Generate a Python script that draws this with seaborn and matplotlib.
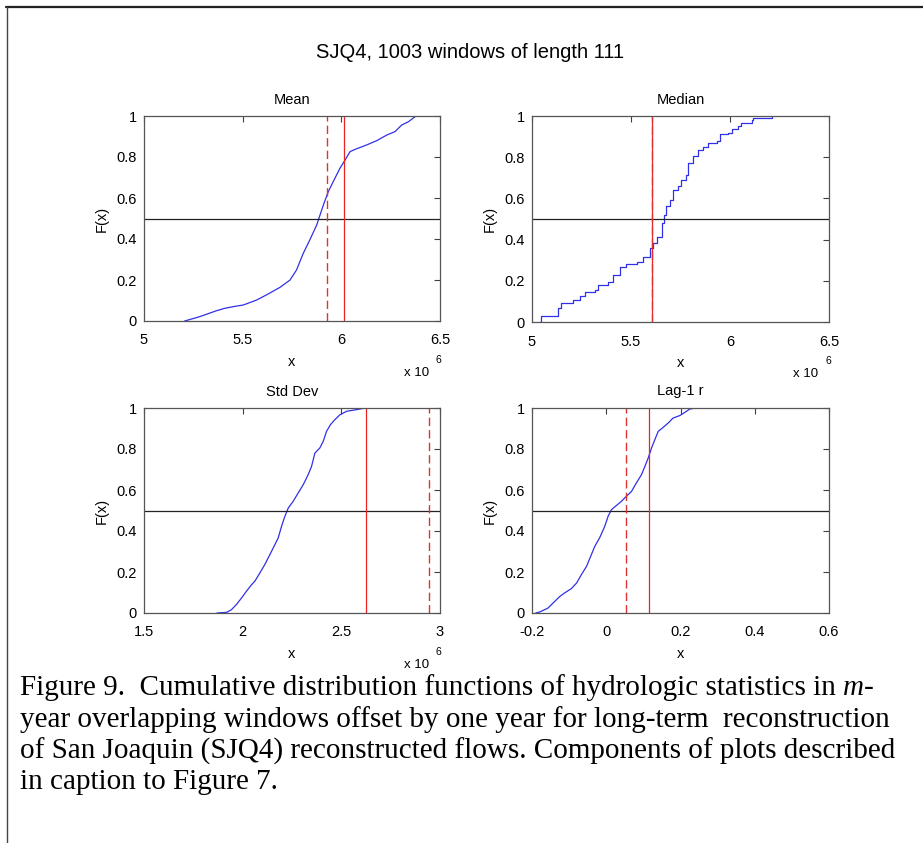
import matplotlib
matplotlib.use("Agg")
import matplotlib.pyplot as plt
import seaborn as sns
import pandas as pd
import numpy as np

# ---------------- data ----------------
suptitle = "SJQ4, 1003 windows of length 111"
panel_titles = ["Mean", "Median", "Std Dev", "Lag-1 r"]

# Mean (x in units of 1e6)
mean_x = [5.206, 5.282, 5.367, 5.41, 5.452, 5.503, 5.57, 5.62, 5.689, 5.74, 5.773,
          5.807, 5.84, 5.875, 5.892, 5.912, 5.934, 5.959, 5.993, 6.019, 6.044,
          6.069, 6.129, 6.18, 6.23, 6.272, 6.306, 6.34, 6.374, 6.382]
mean_F = [0.0, 0.021, 0.05, 0.062, 0.07, 0.078, 0.102, 0.127, 0.164, 0.2, 0.249,
          0.33, 0.395, 0.468, 0.517, 0.574, 0.631, 0.68, 0.745, 0.785, 0.826,
          0.837, 0.859, 0.88, 0.907, 0.924, 0.956, 0.972, 0.997, 1.0]
mean_lines = [5.925, 6.015]          # dashed, solid

# Median (step CDF, x in units of 1e6)
median_x = [5.035, 5.047, 5.131, 5.148, 5.207, 5.241, 5.266, 5.317, 5.334, 5.384,
            5.41, 5.443, 5.477, 5.528, 5.561, 5.595, 5.598, 5.612, 5.629, 5.645,
            5.659, 5.666, 5.679, 5.696, 5.713, 5.738, 5.755, 5.777, 5.789, 5.814,
            5.839, 5.865, 5.89, 5.932, 5.949, 5.991, 6.008, 6.042, 6.058, 6.109,
            6.117, 6.21]
median_F = [0.0, 0.028, 0.07, 0.093, 0.106, 0.125, 0.146, 0.154, 0.179, 0.195,
            0.228, 0.268, 0.281, 0.293, 0.317, 0.325, 0.358, 0.382, 0.415, 0.415,
            0.48, 0.52, 0.561, 0.593, 0.642, 0.662, 0.691, 0.715, 0.772, 0.805,
            0.837, 0.85, 0.87, 0.878, 0.911, 0.919, 0.938, 0.951, 0.967, 0.98,
            0.992, 1.0]
median_lines = [5.607, 5.605]        # dashed, solid

# Std Dev (x in units of 1e6)
std_x = [1.870, 1.918, 1.943, 1.968, 1.994, 2.019, 2.045, 2.061, 2.087, 2.112, 2.138,
         2.163, 2.18, 2.197, 2.214, 2.231, 2.256, 2.281, 2.307, 2.332, 2.349, 2.366,
         2.391, 2.408, 2.425, 2.445, 2.467, 2.493, 2.527, 2.577, 2.62]
std_F = [0.0, 0.003, 0.016, 0.041, 0.073, 0.106, 0.138, 0.154, 0.195, 0.236, 0.285,
         0.333, 0.366, 0.423, 0.472, 0.512, 0.545, 0.585, 0.626, 0.675, 0.715, 0.78,
         0.805, 0.837, 0.886, 0.919, 0.943, 0.967, 0.984, 0.992, 1.0]
std_lines = [2.946, 2.623]           # dashed, solid

# Lag-1 r
lag_x = [-0.190, -0.179, -0.157, -0.143, -0.125, -0.112, -0.094, -0.08, -0.067, -0.053,
         -0.04, -0.031, -0.018, -0.004, 0.005, 0.014, 0.027, 0.041, 0.054, 0.068, 0.081,
         0.095, 0.104, 0.113, 0.122, 0.131, 0.14, 0.151, 0.167, 0.18, 0.198, 0.212,
         0.225, 0.241]
lag_F = [0.0, 0.005, 0.024, 0.049, 0.081, 0.098, 0.119, 0.146, 0.187, 0.228, 0.285,
         0.325, 0.366, 0.423, 0.472, 0.504, 0.524, 0.545, 0.569, 0.593, 0.634, 0.675,
         0.715, 0.756, 0.805, 0.846, 0.886, 0.902, 0.927, 0.951, 0.963, 0.979, 0.995, 1.0]
lag_lines = [0.052, 0.114]           # dashed, solid

x_ticks = [[5, 5.5, 6, 6.5], [5, 5.5, 6, 6.5], [1.5, 2, 2.5, 3], [-0.2, 0, 0.2, 0.4, 0.6]]
x_scales = [1e6, 1e6, 1e6, 1.0]
y_ticks = [0, 0.2, 0.4, 0.6, 0.8, 1]

caption_lines = [
    "Figure 9.  Cumulative distribution functions of hydrologic statistics in ",
    "year overlapping windows offset by one year for long-term  reconstruction",
    "of San Joaquin (SJQ4) reconstructed flows. Components of plots described",
    "in caption to Figure 7.",
]

# ---------------- figure ----------------
sns.set_style("white")
plt.rcParams["font.family"] = ["Liberation Sans", "DejaVu Sans"]
plt.rcParams["text.color"] = "black"
plt.rcParams["axes.labelcolor"] = "black"
plt.rcParams["xtick.color"] = "black"
plt.rcParams["ytick.color"] = "black"

W, H = 923, 843
fig = plt.figure(figsize=(W / 100, H / 100), dpi=100)

def fx(px):
    return px / W

def fy(py):
    return 1 - py / H

def rect(l, t, r, b):
    return [fx(l), fy(b), fx(r) - fx(l), (b - t) / H]

rects = [rect(144, 116, 440, 321), rect(532, 116, 829, 322),
         rect(144, 408, 440, 613), rect(532, 408, 829, 613)]

series = [(mean_x, mean_F, mean_lines, False),
          (median_x, median_F, median_lines, True),
          (std_x, std_F, std_lines, False),
          (lag_x, lag_F, lag_lines, False)]

tick_fs = 10.5
for i, (xs, Fs, vl, steps) in enumerate(series):
    ax = fig.add_axes(rects[i])
    sc = x_scales[i]
    df = pd.DataFrame({"x": np.array(xs) * sc, "F": Fs})
    kw = dict(drawstyle="steps-post") if steps else {}
    sns.lineplot(data=df, x="x", y="F", ax=ax, color="#3030e8", lw=0.9,
                 sort=False, estimator=None, **kw)
    ax.axhline(0.5, color="#222222", lw=0.9)
    ax.axvline(vl[1] * sc, color="#ee2222", lw=0.9)
    ax.axvline(vl[0] * sc, color="#dd3333", lw=1.0, ls=(0, (6, 3)))
    xt = [t * sc for t in x_ticks[i]]
    ax.set_xlim(xt[0], xt[-1])
    ax.set_ylim(0, 1)
    ax.set_xticks(xt)
    ax.set_xticklabels([f"{t:g}" for t in x_ticks[i]])
    ax.set_yticks(y_ticks)
    ax.set_yticklabels([f"{t:g}" for t in y_ticks])
    ax.tick_params(direction="in", length=4, width=0.8, color="#404040",
                   labelcolor="black", top=True, right=True,
                   labelsize=tick_fs, pad=5)
    ax.tick_params(axis="x", pad=9)
    for s in ax.spines.values():
        s.set_color("#555555")
        s.set_linewidth(0.9)
    ax.set_title(panel_titles[i], fontsize=tick_fs, pad=9, color="black")
    ax.set_xlabel("x", fontsize=tick_fs)
    ax.set_ylabel("F(x)", fontsize=tick_fs)
    ax.xaxis.set_label_coords(0.5, -0.2)
    ax.yaxis.set_label_coords(-42 / 296, 0.5)
    ax.xaxis.label.set_va("center")
    ax.yaxis.label.set_va("center")
    if sc != 1.0:
        b = [321, 322, 613, 613][i]
        r = [440, 829, 440, 829][i]
        fig.text(fx(r - 36), fy(b + 52), "x 10", fontsize=tick_fs - 1,
                 ha="left", va="center")
        fig.text(fx(r - 4), fy(b + 39), "6", fontsize=tick_fs - 3,
                 ha="left", va="center")

fig.text(fx(470), fy(53), suptitle, fontsize=14.5, ha="center", va="center",
         family=["Liberation Sans Narrow", "Liberation Sans", "DejaVu Sans"])

# caption
cap_fs = 21
ys = [688, 720, 751, 782]
t0 = fig.text(fx(20), fy(ys[0]), caption_lines[0], fontsize=cap_fs, ha="left",
              va="center", family="Liberation Serif")
fig.canvas.draw()
bb = t0.get_window_extent(renderer=fig.canvas.get_renderer())
tm = fig.text(bb.x1 / W, fy(ys[0]), "m", fontsize=cap_fs, ha="left", va="center",
              family="Liberation Serif", style="italic")
fig.canvas.draw()
bb2 = tm.get_window_extent(renderer=fig.canvas.get_renderer())
fig.text(bb2.x1 / W, fy(ys[0]), "-", fontsize=cap_fs, ha="left", va="center",
         family="Liberation Serif")
for line, y in zip(caption_lines[1:], ys[1:]):
    fig.text(fx(20), fy(y), line, fontsize=cap_fs, ha="left", va="center",
             family="Liberation Serif")

# frame lines
fig.add_artist(plt.Line2D([fx(6), 1], [fy(7), fy(7)], color="#222222", lw=1.6))
fig.add_artist(plt.Line2D([fx(7), fx(7)], [fy(7), 0], color="#444444", lw=1.0))

fig.savefig("out.png", dpi=100)
